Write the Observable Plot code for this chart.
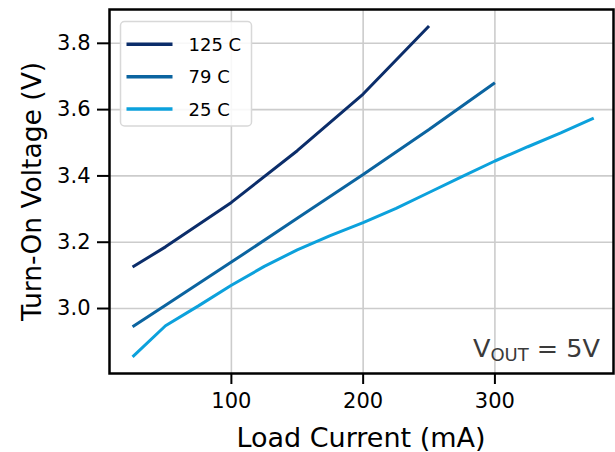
<!DOCTYPE html>
<html>
<head>
<meta charset="utf-8">
<script src="https://cdn.jsdelivr.net/npm/d3@7"></script>
<script src="https://cdn.jsdelivr.net/npm/@observablehq/plot@0.6"></script>
<style>
  html, body { margin: 0; padding: 0; background: #fff; }
  #chart { width: 615px; height: 452px; }
</style>
</head>
<body>
<div id="chart"></div>
<script>
const FONT = "'DejaVu Sans', 'Open Sans', sans-serif";

const seriesNames = ["125 C", "79 C", "25 C"];
const seriesColors = ["#0b2d6a", "#0b64a0", "#0ca1dc"];

const x125 = [25, 50, 100, 150, 200, 250];
const v125 = [3.125, 3.186, 3.320, 3.476, 3.647, 3.852];

const x79 = [25, 50, 100, 150, 200, 250, 300];
const v79 = [2.945, 3.010, 3.140, 3.272, 3.404, 3.540, 3.681];

const x25 = [25, 50, 75, 100, 125, 150, 175, 200, 225, 250, 275, 300, 325, 350, 375];
const v25 = [2.854, 2.948, 3.008, 3.070, 3.127, 3.177, 3.220, 3.259, 3.302, 3.350, 3.398, 3.445, 3.488, 3.530, 3.574];

const xTicks = [100, 200, 300];
const yTicks = [3.0, 3.2, 3.4, 3.6, 3.8];

const rows = [];
[[x125, v125, 0], [x79, v79, 1], [x25, v25, 2]].forEach(([xs, vs, k]) => {
  xs.forEach((xv, i) => rows.push({ series: seriesNames[k], x: xv, v: vs[i] }));
});

const plot = Plot.plot({
  width: 615,
  height: 452,
  marginLeft: 109,
  marginRight: 2,
  marginTop: 9,
  marginBottom: 79,
  style: { fontFamily: FONT, background: "#fff", overflow: "visible" },
  x: { domain: [7.5, 390] },
  y: { domain: [2.804, 3.902] },
  color: { domain: seriesNames, range: seriesColors },
  marks: [
    Plot.gridX(xTicks, { stroke: "#cccccc", strokeOpacity: 1, strokeWidth: 1.6 }),
    Plot.gridY(yTicks, { stroke: "#cccccc", strokeOpacity: 1, strokeWidth: 1.6 }),
    Plot.line(rows, { x: "x", y: "v", z: "series", stroke: "series", strokeWidth: 3, strokeLinecap: "butt", strokeLinejoin: "miter" }),
    Plot.frame({ stroke: "#000", strokeWidth: 2.5 }),
    Plot.axisX(xTicks, { tickSize: 11, tickPadding: 9, strokeWidth: 2, stroke: "#000", fill: "#000", fontSize: 21, tickFormat: d => String(d), label: null }),
    Plot.axisY(yTicks, { tickSize: 12, tickPadding: 7, strokeWidth: 2, stroke: "#000", fill: "#000", fontSize: 21, tickFormat: d => d.toFixed(1), label: null })
  ]
});

document.getElementById("chart").appendChild(plot);

const svg = d3.select(plot);

// axis titles
svg.append("text")
  .attr("x", 361).attr("y", 447)
  .attr("text-anchor", "middle")
  .attr("font-family", FONT).attr("font-size", 27).attr("fill", "#000")
  .text("Load Current (mA)");

svg.append("text")
  .attr("transform", "translate(41,191.5) rotate(-90)")
  .attr("text-anchor", "middle")
  .attr("font-family", FONT).attr("font-size", 26.5).attr("fill", "#000")
  .text("Turn-On Voltage (V)");

// annotation
const ann = svg.append("text")
  .attr("x", 600).attr("y", 357)
  .attr("text-anchor", "end")
  .attr("font-family", FONT).attr("font-size", 25.5).attr("fill", "#3a3a3a");
ann.append("tspan").text("V");
ann.append("tspan").attr("font-size", 18).attr("dy", 4).text("OUT");
ann.append("tspan").attr("dy", -4).text(" = 5V");

// legend
const lg = svg.append("g");
lg.append("rect")
  .attr("x", 120.5).attr("y", 21.5).attr("width", 131).attr("height", 104.5)
  .attr("rx", 4).attr("fill", "#fff").attr("fill-opacity", 0.85)
  .attr("stroke", "#d8d8d8").attr("stroke-width", 1.5);
seriesNames.forEach((name, i) => {
  const yy = 44.3 + i * 32.4;
  lg.append("line")
    .attr("x1", 126.5).attr("x2", 172.5).attr("y1", yy).attr("y2", yy)
    .attr("stroke", seriesColors[i]).attr("stroke-width", 3.5);
  lg.append("text")
    .attr("x", 188.5).attr("y", yy).attr("dy", "0.36em")
    .attr("text-anchor", "start")
    .attr("font-family", FONT).attr("font-size", 18).attr("fill", "#000")
    .text(name);
});
</script>
</body>
</html>
